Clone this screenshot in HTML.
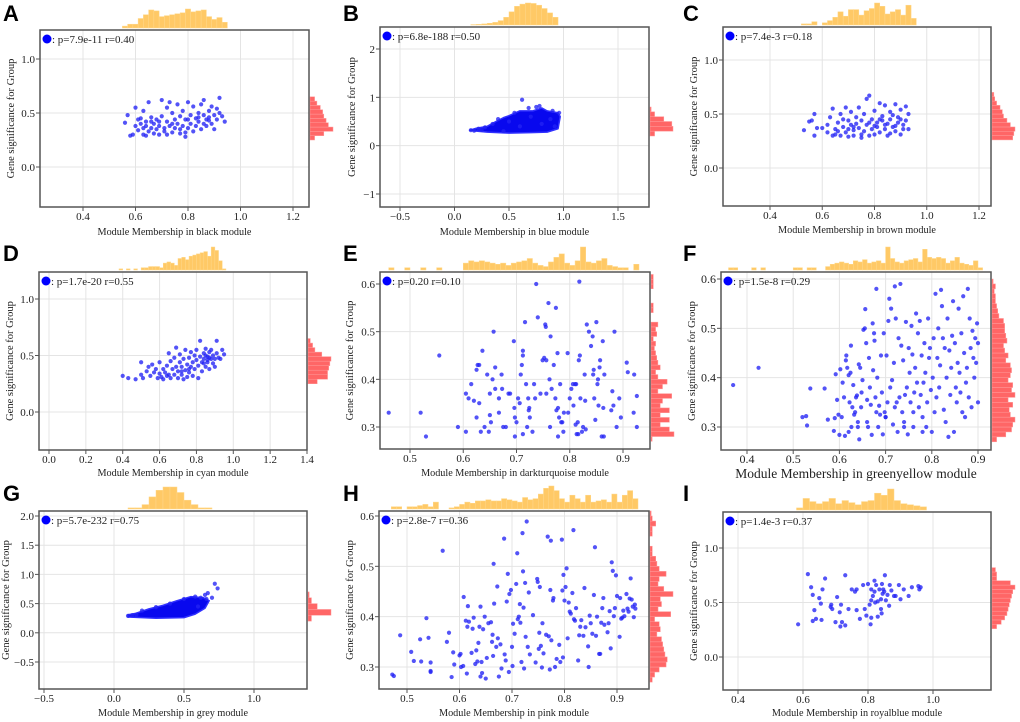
<!DOCTYPE html>
<html><head><meta charset="utf-8"><style>
html,body{margin:0;padding:0;background:#fff}
svg{display:block}
text{font-family:"Liberation Serif",serif;fill:#222}
.lt{font-family:"Liberation Sans",sans-serif;font-weight:bold;fill:#000}
</style></head><body>
<svg id="fig" width="1020" height="722" viewBox="0 0 1020 722" xmlns="http://www.w3.org/2000/svg"></svg>
<script>
// ---- Panel A (black) ----
const aX=[0.56,0.57,0.58,0.59,0.60,0.60,0.61,0.62,0.62,0.63,0.63,0.63,0.64,0.64,0.65,0.65,0.66,0.66,0.67,0.67,0.68,0.68,0.69,0.69,0.70,0.70,0.71,0.71,0.72,0.72,0.73,0.73,0.74,0.74,0.75,0.75,0.76,0.76,0.77,0.77,0.78,0.78,0.79,0.79,0.80,0.80,0.81,0.81,0.82,0.82,0.83,0.83,0.84,0.84,0.85,0.85,0.86,0.86,0.87,0.87,0.88,0.88,0.89,0.89,0.90,0.90,0.91,0.91,0.92,0.92,0.93,0.94,0.66,0.74,0.80,0.84,0.61,0.69,0.77,0.86,0.64,0.72,0.79,0.88];
const aY=[0.41,0.48,0.29,0.30,0.55,0.38,0.34,0.40,0.45,0.36,0.52,0.30,0.42,0.38,0.33,0.60,0.46,0.36,0.40,0.31,0.44,0.35,0.38,0.30,0.47,0.62,0.36,0.33,0.42,0.55,0.38,0.60,0.50,0.32,0.44,0.36,0.58,0.40,0.47,0.31,0.38,0.52,0.44,0.28,0.60,0.36,0.48,0.40,0.33,0.56,0.45,0.38,0.50,0.42,0.58,0.35,0.48,0.62,0.44,0.38,0.52,0.46,0.40,0.56,0.48,0.35,0.54,0.44,0.50,0.64,0.47,0.42,0.42,0.40,0.44,0.46,0.44,0.42,0.35,0.40,0.29,0.30,0.32,0.43];
const aTopCounts=[0.1,0.2,0.2,0.5,0.7,0.95,0.9,0.6,0.65,0.7,0.75,0.8,1.0,0.85,0.9,0.95,0.6,0.45,0.55,0.3];
const aRightCounts=[0.2,0.6,1.0,0.8,0.7,0.6,0.55,0.45,0.3,0.2];
// ---- Panel B (blue) ----
const bHullX=[0.14,0.2,0.3,0.5,0.7,0.85,0.95,0.97,0.95,0.85,0.8,0.72,0.6,0.5,0.45,0.38,0.3,0.2];
const bHullY=[0.32,0.30,0.28,0.26,0.27,0.28,0.35,0.6,0.68,0.72,0.78,0.72,0.72,0.62,0.58,0.50,0.40,0.36];
const bX=[0.15,0.18,0.22,0.25,0.28,0.62,0.78,0.75,0.55,0.68,0.4,0.35,0.9,0.96,0.45,0.5,0.6,0.7,0.8,0.88,0.92];
const bY=[0.32,0.31,0.35,0.33,0.38,0.95,0.82,0.80,0.68,0.78,0.55,0.45,0.72,0.68,0.3,0.5,0.4,0.6,0.45,0.55,0.4];
const bTopCounts=[0.02,0.03,0.05,0.08,0.12,0.2,0.35,0.6,0.85,0.95,1.0,0.98,0.9,0.75,0.55,0.35];
const bRightCounts=[0.2,1.0,0.95,0.6,0.2,0.05];
// ---- Panel C (brown) ----
const cX=[0.53,0.55,0.57,0.57,0.58,0.56,0.60,0.62,0.63,0.64,0.64,0.65,0.65,0.66,0.67,0.67,0.68,0.69,0.69,0.70,0.70,0.71,0.71,0.72,0.72,0.73,0.73,0.74,0.74,0.75,0.75,0.76,0.76,0.77,0.77,0.78,0.78,0.79,0.79,0.80,0.80,0.81,0.81,0.82,0.82,0.83,0.83,0.84,0.84,0.85,0.85,0.86,0.86,0.87,0.87,0.88,0.88,0.89,0.89,0.90,0.90,0.91,0.91,0.92,0.92,0.93,0.93,0.66,0.72,0.78,0.84,0.68,0.75,0.82,0.88,0.62,0.70,0.80,0.86,0.90];
const cY=[0.35,0.43,0.50,0.30,0.37,0.44,0.37,0.40,0.47,0.55,0.30,0.36,0.31,0.42,0.30,0.50,0.38,0.56,0.33,0.29,0.44,0.40,0.52,0.35,0.30,0.47,0.41,0.37,0.56,0.31,0.44,0.50,0.34,0.64,0.40,0.67,0.30,0.45,0.36,0.53,0.31,0.42,0.38,0.60,0.33,0.48,0.44,0.58,0.36,0.41,0.30,0.52,0.45,0.38,0.49,0.34,0.59,0.42,0.47,0.31,0.54,0.40,0.36,0.57,0.44,0.50,0.36,0.34,0.38,0.42,0.40,0.45,0.28,0.45,0.39,0.33,0.36,0.39,0.32,0.45];
const cTopCounts=[0.05,0.05,0.15,0,0.1,0.2,0.35,0.6,0.4,0.7,0.7,0.45,0.65,0.75,1.0,0.85,0.5,0.6,0.7,0.45,0.9,0.3];
const cRightCounts=[0.9,0.95,1.0,0.8,0.65,0.5,0.45,0.35,0.2,0.12,0.08];
// ---- Panel D (cyan) ----
const dX=[0.40,0.43,0.47,0.50,0.50,0.51,0.53,0.54,0.55,0.56,0.57,0.58,0.59,0.60,0.60,0.61,0.62,0.62,0.63,0.64,0.65,0.65,0.66,0.66,0.67,0.68,0.68,0.69,0.69,0.70,0.70,0.71,0.71,0.72,0.72,0.73,0.73,0.74,0.74,0.75,0.75,0.76,0.76,0.77,0.77,0.78,0.78,0.79,0.79,0.80,0.80,0.81,0.81,0.82,0.82,0.83,0.83,0.84,0.84,0.85,0.85,0.86,0.86,0.87,0.87,0.88,0.88,0.89,0.89,0.90,0.90,0.91,0.91,0.92,0.93,0.94,0.95,0.85,0.86,0.87,0.84,0.76,0.72,0.64];
const dY=[0.32,0.30,0.29,0.33,0.44,0.30,0.36,0.40,0.32,0.42,0.35,0.38,0.30,0.34,0.44,0.31,0.38,0.29,0.35,0.41,0.52,0.33,0.45,0.30,0.38,0.48,0.33,0.57,0.40,0.36,0.30,0.44,0.51,0.33,0.40,0.47,0.29,0.37,0.55,0.42,0.31,0.48,0.35,0.40,0.53,0.44,0.32,0.50,0.38,0.46,0.55,0.41,0.30,0.49,0.63,0.44,0.36,0.52,0.47,0.56,0.40,0.49,0.44,0.53,0.38,0.47,0.55,0.43,0.50,0.47,0.40,0.63,0.52,0.48,0.47,0.55,0.51,0.50,0.46,0.48,0.43,0.38,0.36,0.32];
const dTopCounts=[0.05,0,0.05,0,0.05,0,0.1,0.1,0.15,0.15,0.15,0.1,0.3,0.35,0.3,0.2,0.5,0.55,0.45,0.6,0.65,0.7,0.75,0.8,0.6,1.0,0.85,0.4,0.05];
const dRightCounts=[0.4,0.85,0.85,0.9,0.95,1.0,0.6,0.3,0.2,0.1];
// ---- Panel E (darkturquoise) ----
const eX=[0.46,0.52,0.53,0.555,0.59,0.605,0.605,0.61,0.615,0.62,0.625,0.625,0.627,0.63,0.63,0.633,0.636,0.64,0.645,0.648,0.65,0.65,0.652,0.655,0.657,0.66,0.66,0.667,0.667,0.672,0.673,0.675,0.68,0.685,0.688,0.695,0.696,0.697,0.697,0.70,0.703,0.706,0.708,0.71,0.712,0.712,0.712,0.716,0.718,0.72,0.722,0.723,0.724,0.725,0.73,0.733,0.735,0.737,0.74,0.745,0.749,0.752,0.754,0.755,0.756,0.756,0.76,0.762,0.763,0.764,0.766,0.77,0.773,0.774,0.775,0.777,0.778,0.778,0.78,0.782,0.784,0.786,0.788,0.789,0.796,0.797,0.80,0.803,0.806,0.807,0.81,0.811,0.812,0.813,0.815,0.816,0.817,0.818,0.819,0.82,0.823,0.825,0.828,0.829,0.83,0.832,0.836,0.84,0.843,0.844,0.845,0.846,0.848,0.85,0.852,0.853,0.854,0.856,0.857,0.86,0.862,0.863,0.864,0.865,0.878,0.88,0.882,0.884,0.888,0.893,0.896,0.907,0.909,0.92,0.921,0.926,0.926];
const eY=[0.33,0.33,0.28,0.45,0.30,0.29,0.37,0.36,0.39,0.355,0.42,0.32,0.43,0.43,0.35,0.29,0.46,0.30,0.41,0.29,0.37,0.325,0.31,0.40,0.50,0.38,0.425,0.33,0.36,0.41,0.38,0.30,0.30,0.37,0.37,0.48,0.34,0.32,0.28,0.31,0.36,0.35,0.41,0.43,0.46,0.45,0.285,0.52,0.39,0.30,0.36,0.335,0.34,0.32,0.29,0.39,0.36,0.60,0.53,0.37,0.44,0.445,0.515,0.51,0.44,0.37,0.56,0.40,0.30,0.49,0.38,0.43,0.36,0.55,0.335,0.455,0.34,0.28,0.32,0.39,0.31,0.31,0.29,0.33,0.455,0.33,0.36,0.38,0.39,0.345,0.39,0.305,0.39,0.285,0.31,0.285,0.44,0.605,0.45,0.36,0.29,0.30,0.41,0.355,0.295,0.515,0.50,0.47,0.49,0.41,0.42,0.36,0.315,0.52,0.39,0.40,0.345,0.425,0.44,0.28,0.48,0.34,0.28,0.41,0.335,0.375,0.345,0.50,0.30,0.36,0.32,0.435,0.415,0.33,0.41,0.365,0.30];
const eTopCounts=[0,0.1,0,0,0.1,0,0,0.1,0,0,0.1,0,0,0,0,0.3,0.4,0.35,0.4,0.35,0.3,0.25,0.3,0.2,0.3,0.35,0.4,0.5,0.3,0.2,0.15,0.35,0.55,0.7,0.3,0.2,0.4,1.0,0.35,0.3,0.4,0.5,0.2,0.15,0.1,0.1,0,0.25];
const eRightCounts=[0.05,1.0,0.8,0.4,0.8,0.4,0.8,0.4,0.5,0.9,0.3,0.5,0.7,0.3,0.2,0.4,0.3,0.25,0.2,0.15,0.2,0.1,0.25,0.2,0.3,0,0,0.1,0.1,0,0,0,0.1,0.1,0.1];
// ---- Panel F (greenyellow) ----
const fX=[0.37,0.425,0.52,0.528,0.53,0.537,0.568,0.575,0.588,0.59,0.592,0.595,0.598,0.60,0.602,0.605,0.607,0.61,0.612,0.614,0.615,0.617,0.62,0.622,0.624,0.625,0.626,0.628,0.63,0.632,0.634,0.636,0.638,0.64,0.642,0.643,0.645,0.647,0.648,0.65,0.652,0.655,0.656,0.658,0.66,0.662,0.664,0.666,0.668,0.67,0.672,0.673,0.675,0.676,0.678,0.68,0.682,0.684,0.686,0.688,0.69,0.692,0.694,0.696,0.698,0.70,0.702,0.704,0.706,0.708,0.71,0.712,0.714,0.716,0.718,0.72,0.722,0.724,0.726,0.728,0.73,0.732,0.734,0.736,0.738,0.74,0.742,0.744,0.746,0.748,0.75,0.752,0.754,0.756,0.758,0.76,0.762,0.764,0.766,0.768,0.77,0.772,0.774,0.776,0.778,0.78,0.782,0.784,0.786,0.788,0.79,0.792,0.794,0.796,0.798,0.80,0.802,0.804,0.806,0.808,0.81,0.812,0.814,0.816,0.818,0.82,0.822,0.824,0.826,0.828,0.83,0.832,0.834,0.836,0.838,0.84,0.842,0.844,0.846,0.848,0.85,0.852,0.854,0.856,0.858,0.86,0.862,0.864,0.866,0.868,0.87,0.872,0.874,0.876,0.878,0.88,0.882,0.884,0.886,0.888,0.89,0.892,0.894,0.896,0.898,0.90,0.90,0.70,0.72,0.74,0.76,0.78,0.66,0.68,0.64,0.62];
const fY=[0.385,0.42,0.32,0.322,0.303,0.378,0.378,0.315,0.292,0.318,0.407,0.355,0.325,0.284,0.417,0.32,0.39,0.36,0.282,0.435,0.445,0.42,0.405,0.35,0.41,0.465,0.30,0.34,0.385,0.325,0.33,0.36,0.364,0.30,0.427,0.275,0.42,0.34,0.37,0.395,0.497,0.50,0.539,0.47,0.355,0.30,0.44,0.38,0.345,0.284,0.51,0.415,0.49,0.475,0.36,0.58,0.40,0.30,0.343,0.325,0.445,0.37,0.285,0.49,0.33,0.32,0.445,0.35,0.515,0.56,0.38,0.54,0.395,0.305,0.43,0.585,0.52,0.35,0.29,0.48,0.36,0.59,0.465,0.33,0.435,0.30,0.365,0.513,0.38,0.285,0.46,0.41,0.35,0.505,0.447,0.30,0.37,0.42,0.53,0.39,0.49,0.34,0.515,0.365,0.445,0.32,0.39,0.47,0.41,0.30,0.35,0.52,0.44,0.46,0.375,0.29,0.40,0.48,0.33,0.57,0.36,0.44,0.50,0.38,0.425,0.578,0.545,0.48,0.335,0.46,0.31,0.40,0.52,0.28,0.455,0.365,0.42,0.485,0.555,0.29,0.47,0.38,0.35,0.43,0.54,0.41,0.37,0.49,0.33,0.565,0.45,0.32,0.39,0.42,0.58,0.36,0.52,0.46,0.34,0.495,0.44,0.40,0.48,0.43,0.51,0.47,0.35,0.32,0.34,0.31,0.33,0.29,0.31,0.33,0.31,0.29];
const fTopCounts=[0.1,0.1,0,0,0,0.1,0,0.1,0,0,0,0,0,0,0.1,0.1,0,0.1,0.1,0,0,0.15,0.25,0.3,0.35,0.3,0.25,0.4,0.35,0.45,0.3,0.35,0.4,0.3,1.0,0.5,0.35,0.3,0.4,0.45,0.5,0.35,0.9,0.55,0.5,0.55,0.5,0.3,0.4,0.55,0.3,0.25,0.2,0.4,0.1];
const fRightCounts=[0.2,0.6,0.85,0.9,1.0,0.8,0.75,0.9,0.7,1.0,0.85,0.9,0.7,0.8,0.85,0.8,0.6,0.7,0.55,0.5,0.65,0.6,0.55,0.55,0.5,0.3,0.25,0.2,0.15,0.15,0.1,0.15,0.05];
// ---- Panel G (grey) ----
const gHullX=[0.1,0.3,0.5,0.58,0.65,0.68,0.64,0.55,0.45,0.35,0.25,0.15,0.1];
const gHullY=[0.27,0.25,0.26,0.32,0.42,0.55,0.6,0.62,0.55,0.47,0.41,0.33,0.31];
const gX=[0.1,0.13,0.16,0.72,0.74,0.67,0.65,0.62,0.7,0.2,0.3,0.6,0.66,0.58,0.5,0.4];
const gY=[0.29,0.30,0.31,0.84,0.76,0.68,0.65,0.6,0.6,0.38,0.44,0.45,0.58,0.62,0.58,0.5];
const gTopCounts=[0.05,0.05,0.2,0.55,0.85,1.0,1.0,0.75,0.4,0.2,0.05,0.05];
const gRightCounts=[0.15,1.0,0.4,0.15,0.05];
// ---- Panel H (pink) ----
const hX=[0.472,0.475,0.487,0.508,0.513,0.525,0.527,0.537,0.541,0.545,0.545,0.545,0.568,0.576,0.58,0.585,0.588,0.59,0.60,0.602,0.603,0.607,0.608,0.612,0.614,0.615,0.616,0.618,0.623,0.625,0.627,0.63,0.632,0.634,0.636,0.638,0.64,0.64,0.642,0.643,0.645,0.648,0.65,0.652,0.655,0.66,0.662,0.663,0.664,0.665,0.666,0.67,0.672,0.673,0.675,0.678,0.68,0.685,0.686,0.688,0.69,0.692,0.694,0.695,0.698,0.70,0.701,0.702,0.705,0.708,0.71,0.711,0.713,0.715,0.716,0.718,0.72,0.721,0.722,0.723,0.725,0.726,0.728,0.73,0.732,0.734,0.74,0.745,0.748,0.749,0.751,0.752,0.753,0.755,0.757,0.758,0.76,0.765,0.768,0.77,0.772,0.773,0.774,0.775,0.778,0.779,0.782,0.785,0.79,0.792,0.795,0.796,0.797,0.798,0.80,0.802,0.804,0.806,0.808,0.81,0.812,0.815,0.817,0.818,0.82,0.822,0.826,0.828,0.83,0.832,0.836,0.838,0.84,0.845,0.846,0.848,0.85,0.853,0.856,0.858,0.86,0.862,0.866,0.868,0.87,0.872,0.874,0.876,0.882,0.884,0.886,0.888,0.89,0.892,0.894,0.896,0.898,0.90,0.905,0.906,0.908,0.91,0.912,0.914,0.918,0.92,0.922,0.924,0.926,0.928,0.93,0.932,0.934,0.935];
const hY=[0.285,0.282,0.363,0.33,0.312,0.355,0.311,0.397,0.358,0.292,0.309,0.29,0.531,0.35,0.368,0.28,0.329,0.305,0.323,0.326,0.30,0.302,0.439,0.392,0.287,0.38,0.421,0.39,0.328,0.376,0.398,0.306,0.333,0.311,0.348,0.38,0.42,0.281,0.31,0.288,0.375,0.40,0.277,0.318,0.387,0.389,0.35,0.364,0.322,0.505,0.426,0.34,0.46,0.357,0.281,0.345,0.297,0.555,0.325,0.313,0.43,0.485,0.29,0.445,0.453,0.34,0.302,0.386,0.366,0.465,0.526,0.395,0.40,0.425,0.388,0.31,0.566,0.49,0.418,0.297,0.467,0.36,0.589,0.34,0.448,0.325,0.403,0.309,0.475,0.469,0.336,0.368,0.459,0.342,0.299,0.387,0.327,0.364,0.559,0.361,0.295,0.453,0.551,0.353,0.432,0.437,0.30,0.316,0.344,0.31,0.553,0.452,0.319,0.483,0.432,0.459,0.496,0.357,0.428,0.41,0.406,0.447,0.572,0.395,0.392,0.417,0.313,0.363,0.38,0.393,0.362,0.457,0.379,0.341,0.30,0.402,0.387,0.366,0.443,0.538,0.362,0.40,0.326,0.326,0.388,0.417,0.437,0.384,0.369,0.387,0.411,0.337,0.508,0.491,0.401,0.417,0.482,0.441,0.36,0.437,0.396,0.398,0.412,0.401,0.445,0.416,0.41,0.436,0.476,0.434,0.42,0.399,0.424,0.416];
const hTopCounts=[0.1,0.1,0,0.1,0.1,0.15,0.2,0.1,0.3,0,0,0.05,0.1,0.2,0.3,0.25,0.35,0.35,0.4,0.35,0.35,0.45,0.4,0.35,0.3,0.5,0.4,0.45,0.65,0.9,1.0,0.8,0.45,0.3,0.6,0.45,0.3,0.6,0.3,0.35,0.4,0.3,0.65,0.3,0.6,0.8,0.45];
const hRightCounts=[0.1,0.2,0.4,0.7,0.75,0.65,0.6,0.55,0.5,0.3,0.45,0.4,0.2,0.9,0.35,0.5,0.45,1.0,0.6,0.35,0.4,0.7,0.4,0.3,0.25,0.1,0.1,0,0,0.1,0.1,0.25,0.1,0.05];
// ---- Panel I (royalblue) ----
const iX=[0.585,0.615,0.625,0.63,0.63,0.635,0.64,0.65,0.655,0.657,0.66,0.668,0.685,0.687,0.69,0.70,0.705,0.713,0.715,0.717,0.72,0.73,0.73,0.74,0.75,0.76,0.765,0.765,0.775,0.785,0.79,0.795,0.80,0.805,0.808,0.81,0.81,0.81,0.815,0.82,0.82,0.822,0.825,0.83,0.83,0.835,0.84,0.84,0.842,0.843,0.845,0.847,0.85,0.852,0.855,0.86,0.865,0.867,0.872,0.88,0.885,0.895,0.90,0.91,0.925,0.935,0.955,0.958,0.962];
const iY=[0.30,0.76,0.64,0.57,0.33,0.43,0.35,0.54,0.49,0.34,0.62,0.72,0.46,0.48,0.44,0.32,0.55,0.41,0.28,0.48,0.32,0.75,0.29,0.44,0.62,0.60,0.43,0.62,0.35,0.66,0.44,0.38,0.67,0.48,0.30,0.62,0.36,0.52,0.56,0.70,0.60,0.50,0.66,0.51,0.37,0.62,0.53,0.44,0.40,0.67,0.58,0.62,0.60,0.75,0.52,0.57,0.47,0.66,0.61,0.56,0.56,0.66,0.53,0.62,0.56,0.64,0.65,0.62,0.64];
const iTopCounts=[0.1,0.55,0.4,0.3,0.4,0.55,0.3,0.45,0.35,0.25,0.4,0.45,0.8,0.7,1.0,0.45,0.3,0.25,0.2,0.15];
const iRightCounts=[0.2,0.4,0.55,0.65,0.7,0.75,0.8,0.85,0.9,1.0,0.8,0.2,0.2,0.15];

const NS="http://www.w3.org/2000/svg";
const svg=document.getElementById('fig');
function mk(tag,attrs,parent){const e=document.createElementNS(NS,tag);for(const k in attrs)e.setAttribute(k,attrs[k]);(parent||svg).appendChild(e);return e;}
function lin(d0,p0,d1,p1){return v=>p0+(v-d0)*(p1-p0)/(d1-d0);}
function lbl(v){return (v<0?"\u2212":"")+Math.abs(v).toFixed(1);}

const panels=[
 {id:'a',letter:'A',lx:3,ly:21,L:40,R:309,T:30,B:207,xs:[0.4,83,1.2,293],ys:[1,59,0,167],xt:[0.4,0.6,0.8,1.0,1.2],yt:[0,0.5,1.0],yfmt:lbl,X:aX,Y:aY,top:aTopCounts,tx0:0.55,tw:0.02,topH:19,right:aRightCounts,ry0:0.25,rw:0.04,name:'black',p:': p=7.9e-11 r=0.40',ytx:14,xty:231,fs:11,tfs:10.2},
 {id:'b',letter:'B',lx:343,ly:21,L:380,R:649,T:27,B:207,xs:[-0.5,400,1.5,618],ys:[2,49,-1,194],xt:[-0.5,0,0.5,1,1.5],yt:[-1,0,1,2],yfmt:v=>(v<0?"\u2212":"")+Math.abs(v),X:bX,Y:bY,hullX:bHullX,hullY:bHullY,top:bTopCounts,tx0:0.15,tw:0.05,topH:22,right:bRightCounts,ry0:0.2,rw:0.1,name:'blue',p:': p=6.8e-188 r=0.50',ytx:355,xty:231,fs:11,tfs:10.2},
 {id:'c',letter:'C',lx:683,ly:21,L:723,R:991,T:27,B:206,xs:[0.4,770,1.2,979],ys:[1,60,0,168],xt:[0.4,0.6,0.8,1.0,1.2],yt:[0,0.5,1.0],yfmt:lbl,X:cX,Y:cY,top:cTopCounts,tx0:0.52,tw:0.02,topH:22,right:cRightCounts,ry0:0.26,rw:0.04,name:'brown',p:': p=7.4e-3 r=0.18',ytx:697,xty:229,fs:11,tfs:10.2},
 {id:'d',letter:'D',lx:3,ly:261,L:39,R:307,T:272,B:450,xs:[0,49,1.4,307],ys:[1,299,0,412],xt:[0,0.2,0.4,0.6,0.8,1.0,1.2,1.4],yt:[0,0.5,1.0],yfmt:lbl,X:dX,Y:dY,top:dTopCounts,tx0:0.38,tw:0.02,topH:23,right:dRightCounts,ry0:0.25,rw:0.04,name:'cyan',p:': p=1.7e-20 r=0.55',ytx:13,xty:472,fs:11,tfs:10.2},
 {id:'e',letter:'E',lx:343,ly:261,L:380,R:650,T:272,B:449,xs:[0.5,410,0.9,623],ys:[0.6,284,0.3,427],xt:[0.5,0.6,0.7,0.8,0.9],yt:[0.3,0.4,0.5,0.6],yfmt:lbl,X:eX,Y:eY,top:eTopCounts,tx0:0.45,tw:0.01,topH:23,right:eRightCounts,ry0:0.27,rw:0.01,name:'darkturquoise',p:': p=0.20 r=0.10',ytx:353,xty:472,fs:11,tfs:10.2},
 {id:'f',letter:'F',lx:683,ly:261,L:721,R:991,T:272,B:450,xs:[0.4,747,0.9,978],ys:[0.6,279,0.3,427],xt:[0.4,0.5,0.6,0.7,0.8,0.9],yt:[0.3,0.4,0.5,0.6],yfmt:lbl,X:fX,Y:fY,top:fTopCounts,tx0:0.36,tw:0.01,topH:23,right:fRightCounts,ry0:0.27,rw:0.01,name:'greenyellow',p:': p=1.5e-8 r=0.29',ytx:695,xty:474,fs:12,tfs:13.5},
 {id:'g',letter:'G',lx:3,ly:501,L:39,R:307,T:511,B:689,xs:[-0.5,44,1,254],ys:[2,516,-0.5,662],xt:[-0.5,0,0.5,1.0],yt:[-0.5,0,0.5,1.0,1.5,2.0],yfmt:lbl,X:gX,Y:gY,hullX:gHullX,hullY:gHullY,top:gTopCounts,tx0:0.1,tw:0.05,topH:22,right:gRightCounts,ry0:0.2,rw:0.1,name:'grey',p:': p=5.7e-232 r=0.75',ytx:9,xty:712,fs:11,tfs:10.2},
 {id:'h',letter:'H',lx:343,ly:501,L:379,R:649,T:511,B:689,xs:[0.5,407,0.9,617],ys:[0.6,516,0.3,667],xt:[0.5,0.6,0.7,0.8,0.9],yt:[0.3,0.4,0.5,0.6],yfmt:lbl,X:hX,Y:hY,top:hTopCounts,tx0:0.47,tw:0.01,topH:23,right:hRightCounts,ry0:0.27,rw:0.01,name:'pink',p:': p=2.8e-7 r=0.36',ytx:353,xty:712,fs:11,tfs:10.2},
 {id:'i',letter:'I',lx:683,ly:501,L:723,R:991,T:512,B:690,xs:[0.4,738,1.0,933],ys:[1,548,0,657],xt:[0.4,0.6,0.8,1.0],yt:[0,0.5,1.0],yfmt:lbl,X:iX,Y:iY,top:iTopCounts,tx0:0.58,tw:0.02,topH:21,right:iRightCounts,ry0:0.26,rw:0.04,name:'royalblue',p:': p=1.4e-3 r=0.37',ytx:697,xty:712,fs:11,tfs:10.2}
];

panels.forEach(P=>{
  const g=mk('g',{});
  
  
  const sx=lin(P.xs[0],P.xs[1],P.xs[2],P.xs[3]);
  const sy=lin(P.ys[0],P.ys[1],P.ys[2],P.ys[3]);
  const lt=mk('text',{x:P.lx,y:P.ly,class:'lt','font-size':22},g);lt.textContent=P.letter;
  
  
  const grid=mk('g',{stroke:'#e4e4e4','stroke-width':1},g);
  
  
  P.xt.forEach(v=>{const x=sx(v);mk('line',{x1:x,x2:x,y1:P.T,y2:P.B},grid);});
  P.yt.forEach(v=>{const y=sy(v);mk('line',{x1:P.L,x2:P.R,y1:y,y2:y},grid);});
  const th=mk('g',{fill:'#ffc966',stroke:'#ffd88a','stroke-width':0.5},g);
  
  
  const base=P.T-2;
  P.top.forEach((c,i)=>{if(c<=0)return;const x0=sx(P.tx0+i*P.tw),x1=sx(P.tx0+(i+1)*P.tw);const h=c*P.topH;
    const r=mk('rect',{x:x0,y:base-h,width:x1-x0,height:h},th);
    
    });
  const rh=mk('g',{fill:'#ff6666',stroke:'#ff9a9a','stroke-width':0.5},g);
  
  
  P.right.forEach((c,i)=>{if(c<=0)return;const y0=sy(P.ry0+(i+1)*P.rw),y1=sy(P.ry0+i*P.rw);const w=c*23;
    const r=mk('rect',{x:P.R+1,y:y0,width:w,height:y1-y0},rh);
    
    });
  if(P.hullX){const pts=P.hullX.map((v,i)=>sx(v)+','+sy(P.hullY[i])).join(' ');
    const pg=mk('polygon',{points:pts,fill:'#0808ee',stroke:'#3030ff','stroke-width':1.5,'stroke-linejoin':'round'},g);
    
    }
  const pts=mk('g',{fill:'#2323f5','fill-opacity':0.78},g);
  
  
  P.X.forEach((v,i)=>{const c=mk('circle',{cx:sx(v),cy:sy(P.Y[i]),r:2.1},pts);
    
    });
  const bx=mk('rect',{x:P.L,y:P.T,width:P.R-P.L,height:P.B-P.T,fill:'none',stroke:'#555','stroke-width':1.5},g);
  
  
  const ax=mk('g',{},g);
  
  
  P.xt.forEach(v=>{const x=sx(v);mk('line',{x1:x,x2:x,y1:P.B,y2:P.B+4,stroke:'#555'},ax);
    const t=mk('text',{x:x,y:P.B+13,'text-anchor':'middle','font-size':P.fs},ax);t.textContent=lbl(v);
    
    });
  const ay=mk('g',{},g);
  
  
  P.yt.forEach(v=>{const y=sy(v);mk('line',{x1:P.L-4,x2:P.L,y1:y,y2:y,stroke:'#555'},ay);
    const t=mk('text',{x:P.L-5,y:y+4,'text-anchor':'end','font-size':P.fs},ay);t.textContent=P.yfmt(v);
    
    });
  const xt=mk('text',{x:(P.L+P.R)/2,y:P.xty+4,'text-anchor':'middle','font-size':P.tfs},g);
  xt.textContent='Module Membership in '+P.name+' module';
  
  
  const cy=(P.T+P.B)/2;
  const yt=mk('text',{x:P.ytx,y:cy,'text-anchor':'middle','font-size':10.5,transform:'rotate(-90 '+P.ytx+' '+cy+')'},g);
  yt.textContent='Gene significance for Group';
  
  
  const lg=mk('g',{},g);
  
  
  mk('circle',{cx:P.L+7,cy:P.T+9,r:4.5,fill:'#0000ff'},lg);
  const lt2=mk('text',{x:P.L+12,y:P.T+13,'font-size':11},lg);lt2.textContent=P.p;
});
</script>
</body></html>
